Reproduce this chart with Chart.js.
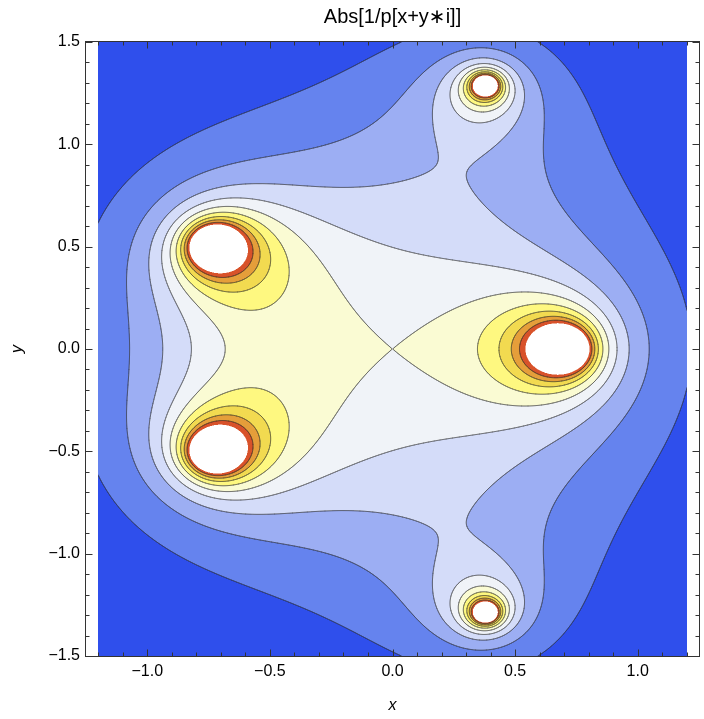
<!DOCTYPE html>
<html>
<head>
<meta charset="utf-8">
<script src="https://cdn.jsdelivr.net/npm/chart.js@4/dist/chart.umd.min.js"></script>
<style>
  html, body { margin: 0; padding: 0; background: #fff; }
  canvas { display: block; }
</style>
</head>
<body>
<canvas id="plot" width="704" height="719"></canvas>
<script>
// Zeros of p(z): real and imaginary parts
const rootRe = [0.69974, -0.72999, -0.72999, 0.38012, 0.38012];
const rootIm = [0, 0.50663, -0.50663, 1.29055, -1.29055];

// Contour levels of |1/p|; values above the last level are left blank
const contourLevels = [0.2, 0.4, 0.6, 0.8, 1.0, 1.2, 1.4, 1.6, 1.8, 2.0];

// Plotted domain
const xDomain = [-1.2, 1.2];
const yDomain = [-1.5, 1.5];

// Tick positions
const xMajorTicks = [-1.0, -0.5, 0.0, 0.5, 1.0];
const xMinorTicks = [-1.2, -1.1, -0.9, -0.8, -0.7, -0.6, -0.4, -0.3, -0.2, -0.1,
                     0.1, 0.2, 0.3, 0.4, 0.6, 0.7, 0.8, 0.9, 1.1, 1.2];
const yMajorTicks = [-1.5, -1.0, -0.5, 0.0, 0.5, 1.0, 1.5];
const yMinorTicks = [-1.4, -1.3, -1.2, -1.1, -0.9, -0.8, -0.7, -0.6, -0.4, -0.3, -0.2, -0.1,
                     0.1, 0.2, 0.3, 0.4, 0.6, 0.7, 0.8, 0.9, 1.1, 1.2, 1.3, 1.4];

// Fill colour of each band (lowest first); the band above the top level is white
const bandColors = [
  [47, 79, 236], [101, 131, 238], [156, 174, 243], [212, 220, 249], [240, 243, 248],
  [250, 251, 211], [254, 248, 128], [242, 218, 80], [229, 158, 58], [216, 82, 42]
];
const blankColor = [255, 255, 255];

const FONT = '"Liberation Sans", Arial, "DejaVu Sans", sans-serif';

function absInvP(x, y) {
  let re = 1, im = 0;
  for (let k = 0; k < rootRe.length; k++) {
    const a = x - rootRe[k], b = y - rootIm[k];
    const nr = re * a - im * b;
    im = re * b + im * a;
    re = nr;
  }
  return 1 / Math.sqrt(re * re + im * im);
}

function bandOf(v) {
  let i = 0;
  while (i < contourLevels.length && v >= contourLevels[i]) i++;
  return i < bandColors.length ? bandColors[i] : blankColor;
}

function fmt(v) {
  return (v < 0 ? '\u2212' : '') + Math.abs(v).toFixed(1);
}

const contourPlugin = {
  id: 'contourField',
  beforeDraw(chart) {
    const ctx = chart.ctx;
    const xs = chart.scales.x, ys = chart.scales.y;
    const left = Math.floor(xs.getPixelForValue(xDomain[0]));
    const right = Math.ceil(xs.getPixelForValue(xDomain[1]));
    const top = Math.round(ys.getPixelForValue(yDomain[1]));
    const bottom = Math.round(ys.getPixelForValue(yDomain[0]));
    const W = right - left, H = bottom - top;

    // linear pixel -> value mapping taken from the scales
    const x0 = xs.getValueForPixel(0), dx = xs.getValueForPixel(1) - x0;
    const y0 = ys.getValueForPixel(0), dy = ys.getValueForPixel(1) - y0;
    const vx = px => x0 + px * dx;
    const vy = py => y0 + py * dy;

    // filled bands, 2x2 samples per pixel
    const off = document.createElement('canvas');
    off.width = W; off.height = H;
    const octx = off.getContext('2d');
    const img = octx.createImageData(W, H);
    const d = img.data;
    const sub = [0.25, 0.75];
    for (let j = 0; j < H; j++) {
      for (let i = 0; i < W; i++) {
        let r = 0, g = 0, b = 0;
        for (const sy of sub) {
          for (const sx of sub) {
            const c = bandOf(absInvP(vx(left + i + sx), vy(top + j + sy)));
            r += c[0]; g += c[1]; b += c[2];
          }
        }
        const o = (j * W + i) * 4;
        d[o] = r / 4; d[o + 1] = g / 4; d[o + 2] = b / 4; d[o + 3] = 255;
      }
    }
    octx.putImageData(img, 0, 0);
    ctx.drawImage(off, left, top);

    // contour lines by marching squares on a 1px grid
    const NX = W + 1, NY = H + 1;
    const val = new Float64Array(NX * NY);
    for (let j = 0; j < NY; j++) {
      for (let i = 0; i < NX; i++) {
        val[j * NX + i] = absInvP(vx(left + i), vy(top + j));
      }
    }
    ctx.save();
    ctx.beginPath();
    ctx.rect(left, top, W, H);
    ctx.clip();
    ctx.strokeStyle = 'rgba(40, 40, 40, 0.55)';
    ctx.lineWidth = 0.8;
    ctx.lineJoin = 'round';
    ctx.lineCap = 'round';
    const lineLevels = contourLevels.slice(0, contourLevels.length - 1);
    for (const L of lineLevels) {
      ctx.beginPath();
      for (let j = 0; j < H; j++) {
        for (let i = 0; i < W; i++) {
          const a = val[j * NX + i], b = val[j * NX + i + 1];
          const c = val[(j + 1) * NX + i + 1], e = val[(j + 1) * NX + i];
          const ia = a >= L, ib = b >= L, ic = c >= L, ie = e >= L;
          if (ia === ib && ib === ic && ic === ie) continue;
          const X = left + i, Y = top + j;
          const pts = {};
          if (ia !== ib) pts.t = [X + (L - a) / (b - a), Y];
          if (ib !== ic) pts.r = [X + 1, Y + (L - b) / (c - b)];
          if (ie !== ic) pts.b = [X + (L - e) / (c - e), Y + 1];
          if (ia !== ie) pts.l = [X, Y + (L - a) / (e - a)];
          const keys = Object.keys(pts);
          const seg = (p, q) => { ctx.moveTo(p[0], p[1]); ctx.lineTo(q[0], q[1]); };
          if (keys.length === 2) {
            seg(pts[keys[0]], pts[keys[1]]);
          } else if (keys.length === 4) {
            const centre = (a + b + c + e) / 4 >= L;
            if (centre === ia) { seg(pts.t, pts.r); seg(pts.b, pts.l); }
            else { seg(pts.t, pts.l); seg(pts.b, pts.r); }
          }
        }
      }
      ctx.stroke();
    }
    ctx.restore();
  },
  afterDraw(chart) {
    const ctx = chart.ctx;
    const a = chart.chartArea;
    const xs = chart.scales.x, ys = chart.scales.y;
    const L = Math.round(a.left) - 0.5, R = Math.round(a.right) + 0.5;
    const T = Math.round(a.top) - 0.5, B = Math.round(a.bottom) + 0.5;
    ctx.save();
    ctx.strokeStyle = '#333';
    ctx.lineWidth = 1;
    ctx.strokeRect(L, T, R - L, B - T);
    ctx.beginPath();
    const xTick = (v, len) => {
      const p = Math.round(xs.getPixelForValue(v)) + 0.5;
      ctx.moveTo(p, B); ctx.lineTo(p, B - len);
      ctx.moveTo(p, T); ctx.lineTo(p, T + len);
    };
    const yTick = (v, len) => {
      const p = Math.round(ys.getPixelForValue(v)) + 0.5;
      ctx.moveTo(L, p); ctx.lineTo(L + len, p);
      ctx.moveTo(R, p); ctx.lineTo(R - len, p);
    };
    xMajorTicks.forEach(v => xTick(v, 7));
    xMinorTicks.forEach(v => xTick(v, 4));
    yMajorTicks.forEach(v => yTick(v, 7));
    yMinorTicks.forEach(v => yTick(v, 4));
    ctx.stroke();
    ctx.restore();
  }
};

new Chart(document.getElementById('plot'), {
  type: 'scatter',
  data: { datasets: [{ data: [], showLine: false }] },
  options: {
    responsive: false,
    animation: false,
    devicePixelRatio: 1,
    layout: { padding: { left: 0, right: 5, top: 0, bottom: 0 } },
    plugins: {
      legend: { display: false },
      tooltip: { enabled: false },
      title: {
        display: true,
        text: 'Abs[1/p[x+y\u2217i]]',
        color: '#000',
        fullSize: false,
        font: { family: FONT, size: 20, weight: 'normal' },
        padding: { top: 5, bottom: 13 }
      }
    },
    scales: {
      x: {
        type: 'linear', min: -1.25, max: 1.25,
        afterBuildTicks(s) { s.ticks = xMajorTicks.map(v => ({ value: v })); },
        afterFit(s) { s.height = 63; },
        grid: { display: false, drawTicks: false },
        border: { display: false },
        ticks: { padding: 6, color: '#000', autoSkip: false, maxRotation: 0,
                 font: { family: FONT, size: 16 }, callback: v => fmt(v) },
        title: { display: true, text: 'x', color: '#000',
                 font: { family: FONT, size: 16, style: 'italic' },
                 padding: { top: 0, bottom: 4 } }
      },
      y: {
        type: 'linear', min: -1.5, max: 1.5,
        afterBuildTicks(s) { s.ticks = yMajorTicks.map(v => ({ value: v })); },
        afterFit(s) { s.width = 86; },
        grid: { display: false, drawTicks: false },
        border: { display: false },
        ticks: { padding: 6, color: '#000', autoSkip: false,
                 font: { family: FONT, size: 16 }, callback: v => fmt(v) },
        title: { display: true, text: 'y', color: '#000',
                 font: { family: FONT, size: 16, style: 'italic' },
                 padding: { top: 8, bottom: 0 } }
      }
    }
  },
  plugins: [contourPlugin]
});
</script>
</body>
</html>
